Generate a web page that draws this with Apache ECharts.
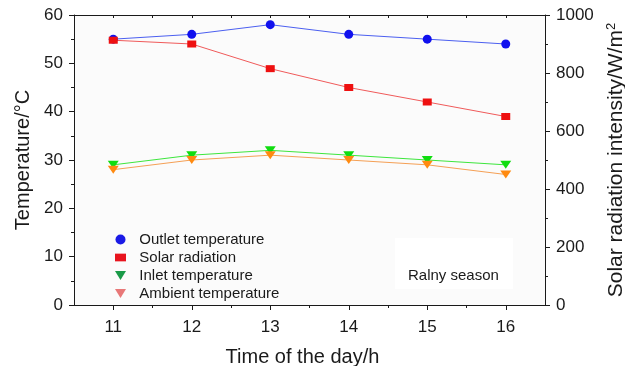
<!DOCTYPE html>
<html>
<head>
<meta charset="utf-8">
<script src="https://cdn.jsdelivr.net/npm/echarts@6/dist/echarts.min.js"></script>
<style>
  html, body { margin: 0; padding: 0; background: #fff; }
  #chart { width: 625px; height: 366px; }
</style>
</head>
<body>
<div id="chart"></div>
<script>
const hours = [11, 12, 13, 14, 15, 16];
const halfHours = [11.5, 12.5, 13.5, 14.5, 15.5];
const outletTemp = [55, 56, 58, 56, 55, 54];
const solarRadiation = [913, 900, 815, 750, 700, 650];
const inletTemp = [29, 31, 32, 31, 30, 29];
const ambientTemp = [28, 30, 31, 30, 29, 27];

const FONT = 'Liberation Sans';
const AXIS_COLOR = '#1a1a1a';
const TRI_DOWN = 'path://M0,0L10,0L5,8Z';

const pairs = (values) => values.map((v, i) => [hours[i], v]);

const lineSeries = (name, values, { yAxisIndex = 0, symbol, symbolSize, lineColor, markerColor }) => ({
  name,
  type: 'line',
  yAxisIndex,
  data: pairs(values),
  symbol,
  symbolSize,
  showAllSymbol: true,
  lineStyle: { color: lineColor, width: 1 },
  itemStyle: { color: markerColor },
  emphasis: { disabled: true },
  z: 3,
});

const chart = echarts.init(document.getElementById('chart'));

const option = {
  animation: false,
  textStyle: { fontFamily: FONT },
  grid: {
    left: 74,
    right: 80,
    top: 15,
    bottom: 61,
    outerBoundsMode: 'none',
    containLabel: false,
    show: true,
    backgroundColor: '#fbfbfb',
    borderWidth: 0,
  },
  title: {
    text: 'Ralny season',
    left: 395,
    top: 238,
    padding: [30, 14, 6, 13],
    backgroundColor: '#fff',
    textStyle: { fontFamily: FONT, fontSize: 15, fontWeight: 'normal', color: '#1a1a1a' },
  },
  legend: {
    orient: 'vertical',
    left: 115,
    top: 232,
    padding: 0,
    itemGap: 3,
    itemWidth: 11,
    itemHeight: 10,
    formatter: '  {name}',
    textStyle: { fontFamily: FONT, fontSize: 15, color: '#1a1a1a' },
    data: [
      { name: 'Outlet temperature', icon: 'circle', itemStyle: { color: '#1a1ae6' } },
      { name: 'Solar radiation', icon: 'path://M0,0H10V7H0Z', itemStyle: { color: '#e8141e' } },
      { name: 'Inlet temperature', icon: TRI_DOWN, itemStyle: { color: '#1a9a48' } },
      { name: 'Ambient temperature', icon: TRI_DOWN, itemStyle: { color: '#e87878' } },
    ],
  },
  xAxis: [
    {
      type: 'value',
      position: 'bottom',
      min: 10.5,
      max: 16.5,
      axisLine: { lineStyle: { color: AXIS_COLOR, width: 1 } },
      axisTick: { customValues: hours, length: 5, lineStyle: { color: AXIS_COLOR } },
      axisLabel: { customValues: hours, fontSize: 17, color: AXIS_COLOR, margin: 14, fontFamily: FONT },
      splitLine: { show: false },
      name: 'Time of the day/h',
      nameLocation: 'middle',
      nameGap: 42,
      nameTextStyle: { fontSize: 20, color: AXIS_COLOR, fontFamily: FONT, padding: [0, 14, 0, 0] },
    },
    {
      type: 'value',
      position: 'bottom',
      min: 10.5,
      max: 16.5,
      axisLine: { show: false },
      axisTick: { customValues: halfHours, length: 3, lineStyle: { color: AXIS_COLOR } },
      axisLabel: { show: false },
      splitLine: { show: false },
    },
    {
      type: 'value',
      position: 'top',
      min: 10.5,
      max: 16.5,
      interval: 0.5,
      axisLine: { lineStyle: { color: AXIS_COLOR, width: 1 } },
      axisTick: { inside: true, length: 3, lineStyle: { color: AXIS_COLOR } },
      axisLabel: { show: false },
      splitLine: { show: false },
    },
  ],
  yAxis: [
    {
      type: 'value',
      position: 'left',
      min: 0,
      max: 60,
      interval: 10,
      axisLine: { show: true, lineStyle: { color: AXIS_COLOR, width: 1 } },
      axisTick: { show: true, length: 5, lineStyle: { color: AXIS_COLOR } },
      minorTick: { show: true, splitNumber: 2, length: 3, lineStyle: { color: AXIS_COLOR } },
      axisLabel: { fontSize: 17, color: AXIS_COLOR, margin: 11, fontFamily: FONT },
      splitLine: { show: false },
      name: 'Temperature/°C',
      nameLocation: 'middle',
      nameRotate: 90,
      nameGap: 41,
      nameTextStyle: { fontSize: 20, color: AXIS_COLOR, fontFamily: FONT },
    },
    {
      type: 'value',
      position: 'right',
      min: 0,
      max: 1000,
      interval: 200,
      axisLine: { show: true, lineStyle: { color: AXIS_COLOR, width: 1 } },
      axisTick: { show: true, length: 5, lineStyle: { color: AXIS_COLOR } },
      minorTick: { show: true, splitNumber: 2, length: 3, lineStyle: { color: AXIS_COLOR } },
      axisLabel: { fontSize: 17, color: AXIS_COLOR, margin: 11, fontFamily: FONT, formatter: (v) => String(v) },
      splitLine: { show: false },
      name: 'Solar radiation intensity/W/m{sup|2}',
      nameLocation: 'middle',
      nameRotate: 90,
      nameGap: 57,
      nameTextStyle: {
        fontSize: 21,
        color: AXIS_COLOR,
        fontFamily: FONT,
        rich: {
          sup: { fontSize: 13, color: AXIS_COLOR, fontFamily: FONT, verticalAlign: 'top', padding: [0, 0, 9, 0] },
        },
      },
    },
  ],
  series: [
    lineSeries('Outlet temperature', outletTemp, {
      symbol: 'circle', symbolSize: 9, lineColor: '#4b5ff0', markerColor: '#1010ee',
    }),
    lineSeries('Solar radiation', solarRadiation, {
      yAxisIndex: 1, symbol: 'rect', symbolSize: [9, 7], lineColor: '#f05a5a', markerColor: '#ee1010',
    }),
    lineSeries('Inlet temperature', inletTemp, {
      symbol: TRI_DOWN, symbolSize: [11, 8], lineColor: '#3de63d', markerColor: '#10dd10',
    }),
    lineSeries('Ambient temperature', ambientTemp, {
      symbol: TRI_DOWN, symbolSize: [11, 8], lineColor: '#f5a055', markerColor: '#ff8a10',
    }),
  ],
};

chart.setOption(option);
</script>
</body>
</html>
